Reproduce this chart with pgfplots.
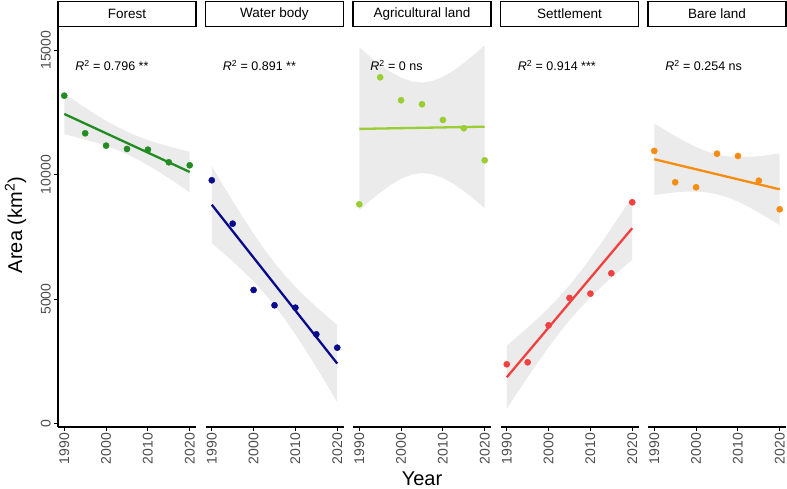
\documentclass[border=0pt]{standalone}
\usepackage{pgfplots}
\pgfplotsset{compat=1.18}
\usepackage{fontspec}
\setmainfont{Liberation Sans}
\definecolor{cforest}{RGB}{34,139,34}
\definecolor{cwater}{RGB}{10,10,140}
\definecolor{cagri}{RGB}{154,205,50}
\definecolor{csettle}{RGB}{240,64,64}
\definecolor{cbare}{RGB}{247,140,15}
\definecolor{ribbon}{RGB}{235,235,235}
\definecolor{tickgray}{RGB}{77,77,77}

\pgfplotsset{
  facet/.style={
    scale only axis, width=138pt, height=400pt,
    anchor=south west,
    xmin=1988.5, xmax=2021.5, ymin=-133, ymax=15930,
    xtick={1990,2000,2010,2020},
    axis x line*=bottom,
    tick align=outside, major tick length=4pt,
    every tick/.style={black, line width=1pt},
    axis line style={line width=1.1pt, black},
    xticklabel style={rotate=90, anchor=east, font=\fontsize{14}{14}\selectfont, text=tickgray, inner sep=2pt},
    /pgf/number format/1000 sep={},
    /pgf/number format/assume math mode=true,
    scaled y ticks=false,
    clip=false,
  },
  other/.style={axis y line=none, ytick=\empty},
  rib/.style={fill=ribbon, draw=none},
  reg/.style={line width=2.3pt, #1},
  pts/.style={only marks, mark=*, mark size=3.1pt, color=#1},
}
\newcommand{\rtext}[1]{\node[anchor=west, font=\fontsize{12.5}{13}\selectfont] at (axis cs:1991.8,14380) {#1};}
\newcommand{\strip}[2]{%
  \draw[line width=1.2pt] ([yshift=0.6pt]#1.north west) rectangle ([yshift=25.5pt]#1.north east);
  \node[font=\fontsize{13.5}{14}\selectfont] at ([yshift=13pt]#1.north) {#2};}

\begin{document}
\begin{tikzpicture}
\path[use as bounding box] (0,0) rectangle (787pt,488pt);

% ---------------- Forest
\begin{axis}[facet, name=f1, at={(58pt,61pt)},
  axis y line*=left, ytick={0,5000,10000,15000},
  yticklabel style={rotate=90, anchor=south, font=\fontsize{14}{14}\selectfont, text=tickgray, inner sep=3pt}]
\addplot[rib] coordinates {(1990,13253)(1992.5,12967)(1995,12689)(1997.5,12420)(2000,12166)(2002.5,11933)(2005,11725)(2007.5,11544)(2010,11390)(2012.5,11255)(2015,11135)(2017.5,11025)(2020,10922)
 (2020,9293)(2017.5,9579)(2015,9858)(2012.5,10126)(2010,10380)(2007.5,10613)(2005,10821)(2002.5,11002)(2000,11156)(1997.5,11291)(1995,11411)(1992.5,11521)(1990,11624)} -- cycle;
\addplot[reg=cforest] coordinates {(1990,12438)(2020,10108)};
\addplot[pts=cforest] coordinates {(1990,13172)(1995,11662)(2000,11165)(2005,11032)(2010,11004)(2015,10497)(2020,10377)};
\rtext{\textit{R}\textsuperscript{2} = 0.796 **}
\end{axis}
\strip{f1}{Forest}

% ---------------- Water body
\begin{axis}[facet, other, name=f2, at={(205.5pt,61pt)}]
\addplot[rib] coordinates {(1990,10339)(1992.5,9635)(1995,8943)(1997.5,8271)(2000,7626)(2002.5,7020)(2005,6462)(2007.5,5957)(2010,5500)(2012.5,5082)(2015,4691)(2017.5,4320)(2020,3962)
 (2020,870)(2017.5,1575)(2015,2266)(2012.5,2938)(2010,3583)(2007.5,4189)(2005,4747)(2002.5,5252)(2000,5709)(1997.5,6127)(1995,6518)(1992.5,6889)(1990,7248)} -- cycle;
\addplot[reg=cwater] coordinates {(1990,8794)(2020,2416)};
\addplot[pts=cwater] coordinates {(1990,9775)(1995,8032)(2000,5369)(2005,4755)(2010,4659)(2015,3590)(2020,3052)};
\rtext{\textit{R}\textsuperscript{2} = 0.891 **}
\end{axis}
\strip{f2}{Water body}

% ---------------- Agricultural land
\begin{axis}[facet, other, name=f3, at={(353pt,61pt)}]
\addplot[rib] coordinates {(1990,15112)(1992.5,14752)(1995,14421)(1997.5,14130)(2000,13898)(2002.5,13747)(2005,13698)(2007.5,13761)(2010,13927)(2012.5,14174)(2015,14480)(2017.5,14826)(2020,15200)
 (2020,8653)(2017.5,9012)(2015,9344)(2012.5,9634)(2010,9867)(2007.5,10018)(2005,10066)(2002.5,10003)(2000,9837)(1997.5,9590)(1995,9284)(1992.5,8938)(1990,8564)} -- cycle;
\addplot[reg=cagri] coordinates {(1990,11838)(2020,11927)};
\addplot[pts=cagri] coordinates {(1990,8811)(1995,13911)(2000,12988)(2005,12827)(2010,12197)(2015,11863)(2020,10578)};
\rtext{\textit{R}\textsuperscript{2} = 0 ns}
\end{axis}
\strip{f3}{Agricultural land}

% ---------------- Settlement
\begin{axis}[facet, other, name=f4, at={(500.5pt,61pt)}]
\addplot[rib] coordinates {(1990,3132)(1992.5,3489)(1995,3857)(1997.5,4240)(2000,4646)(2002.5,5084)(2005,5561)(2007.5,6081)(2010,6642)(2012.5,7233)(2015,7847)(2017.5,8478)(2020,9118)
 (2020,6583)(2017.5,6226)(2015,5859)(2012.5,5475)(2010,5069)(2007.5,4632)(2005,4154)(2002.5,3634)(2000,3074)(1997.5,2482)(1995,1868)(1992.5,1238)(1990,597)} -- cycle;
\addplot[reg=csettle] coordinates {(1990,1865)(2020,7851)};
\addplot[pts=csettle] coordinates {(1990,2385)(1995,2466)(2000,3952)(2005,5048)(2010,5221)(2015,6040)(2020,8891)};
\rtext{\textit{R}\textsuperscript{2} = 0.914 ***}
\end{axis}
\strip{f4}{Settlement}

% ---------------- Bare land
\begin{axis}[facet, other, name=f5, at={(648pt,61pt)}]
\addplot[rib] coordinates {(1990,12060)(1992.5,11798)(1995,11548)(1997.5,11316)(2000,11110)(2002.5,10939)(2005,10814)(2007.5,10738)(2010,10707)(2012.5,10712)(2015,10742)(2017.5,10791)(2020,10852)
 (2020,7969)(2017.5,8232)(2015,8481)(2012.5,8713)(2010,8920)(2007.5,9090)(2005,9215)(2002.5,9291)(2000,9322)(1997.5,9318)(1995,9287)(1992.5,9239)(1990,9178)} -- cycle;
\addplot[reg=cbare] coordinates {(1990,10619)(2020,9411)};
\addplot[pts=cbare] coordinates {(1990,10952)(1995,9694)(2000,9494)(2005,10843)(2010,10751)(2015,9759)(2020,8610)};
\rtext{\textit{R}\textsuperscript{2} = 0.254 ns}
\end{axis}
\strip{f5}{Bare land}

% axis titles
\node[rotate=90, inner sep=0pt, font=\fontsize{20}{20}\selectfont] at (15.5pt,263pt) {Area (km\textsuperscript{2})};
\node[inner sep=0pt, font=\fontsize{20}{20}\selectfont] at (422pt,9.5pt) {Year};
\end{tikzpicture}
\end{document}
